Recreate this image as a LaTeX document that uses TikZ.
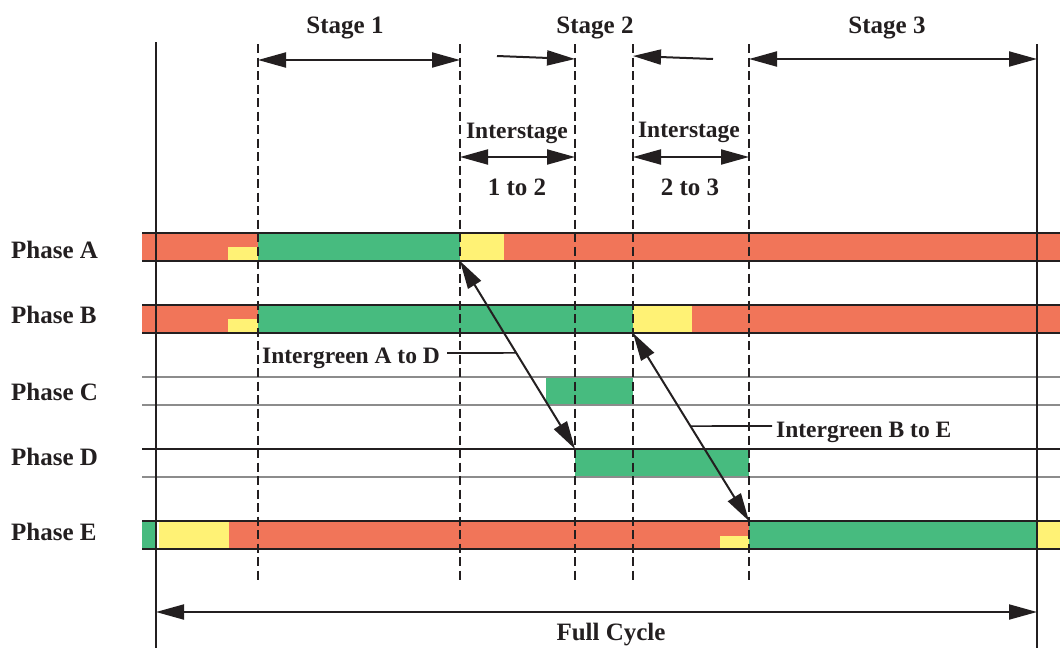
\documentclass[tikz,border=0pt]{standalone}
\usepackage{fontspec}
\setmainfont{Liberation Serif}
\usetikzlibrary{arrows.meta,calc}
\definecolor{pred}{RGB}{241,117,89}
\definecolor{pgreen}{RGB}{71,187,127}
\definecolor{pyellow}{RGB}{255,242,117}
\definecolor{ink}{RGB}{35,31,32}
\tikzset{
  lbl/.style={font=\bfseries\fontsize{25}{29}\selectfont, inner sep=0pt, text=ink},
  lblnarrow/.style={font=\bfseries\fontsize{23.5}{28}\selectfont, inner sep=0pt, text=ink},
  dimarrow/.style={line width=2pt, draw=ink, {Triangle[length=28pt,width=15pt]}-{Triangle[length=28pt,width=15pt]}},
  onearrow/.style={line width=2pt, draw=ink, -{Triangle[length=28pt,width=15pt]}},
  guide/.style={line width=2pt, draw=ink, dash pattern=on 9pt off 4.5pt},
  solidguide/.style={line width=2pt, draw=ink},
  barline/.style={line width=1.6pt, draw=ink},
  greyline/.style={line width=1.6pt, draw=black!45},
  leader/.style={line width=1.6pt, draw=ink}
}
\begin{document}
\begin{tikzpicture}[x=1pt,y=-1pt]
\useasboundingbox (0,0) rectangle (1060,648);

% ---------- Phase bars ----------
% Phase A
\fill[pred] (142,233) rectangle (1060,261);
\fill[pyellow] (228,247) rectangle (258,261);
\fill[pgreen] (258,233) rectangle (460,261);
\fill[pyellow] (460,233) rectangle (504,261);
\draw[barline] (142,233) -- (1060,233) (142,261) -- (1060,261);
% Phase B
\fill[pred] (142,305) rectangle (1060,333);
\fill[pyellow] (228,319) rectangle (258,333);
\fill[pgreen] (258,305) rectangle (633,333);
\fill[pyellow] (633,305) rectangle (692,333);
\draw[barline] (142,305) -- (1060,305) (142,333) -- (1060,333);
% Phase C
\fill[pgreen] (546,377) rectangle (633,405);
\draw[greyline] (142,377) -- (1060,377) (142,405) -- (1060,405);
% Phase D
\fill[pgreen] (575,449) rectangle (749,477);
\draw[barline] (142,449) -- (1060,449);
\draw[greyline] (142,477) -- (1060,477);
% Phase E
\fill[pred] (229,521) rectangle (749,549);
\fill[pgreen] (142,521) rectangle (156,549);
\fill[pyellow] (159,521) rectangle (229,549);
\fill[pyellow] (720,536) rectangle (749,549);
\fill[pgreen] (749,521) rectangle (1037,549);
\fill[pyellow] (1037,521) rectangle (1060,549);
\draw[barline] (142,521) -- (1060,521) (142,549) -- (1060,549);

% ---------- Guide lines ----------
\coordinate (c0t) at (156,42);   \coordinate (c0b) at (156,648);
\coordinate (c6t) at (1037,44);  \coordinate (c6b) at (1037,648);
\coordinate (g1t) at (258,44);   \coordinate (g1b) at (258,581);
\coordinate (g2t) at (460,44);   \coordinate (g2b) at (460,581);
\coordinate (g3t) at (575,44);   \coordinate (g3b) at (575,581);
\coordinate (g4t) at (633,44);   \coordinate (g4b) at (633,581);
\coordinate (g5t) at (749,44);   \coordinate (g5b) at (749,581);
\draw[solidguide] (c0t) -- (c0b);
\draw[solidguide] (c6t) -- (c6b);
\foreach \g in {g1,g2,g3,g4,g5} \draw[guide] (\g t) -- (\g b);

% ---------- Phase labels ----------
\node[lbl, anchor=base west] (pA) at (11,258) {Phase A};
\node[lbl, anchor=base west] (pB) at (11,323) {Phase B};
\node[lbl, anchor=base west] (pC) at (11,400) {Phase C};
\node[lbl, anchor=base west] (pD) at (11,465) {Phase D};
\node[lbl, anchor=base west] (pE) at (11,540) {Phase E};

% ---------- Stage arrows ----------
\node[lbl, anchor=base] (s1) at (345,33) {Stage 1};
\node[lbl, anchor=base] (s2) at (595,33) {Stage 2};
\node[lbl, anchor=base] (s3) at (887,33) {Stage 3};
\coordinate (s1a) at (258,60); \coordinate (s1b) at (460,60);
\draw[dimarrow] (s1a) -- (s1b);
\coordinate (s2a) at (497,56); \coordinate (s2b) at (575,59);
\draw[onearrow] (s2a) -- (s2b);
\coordinate (s2c) at (713,59); \coordinate (s2d) at (633,56);
\draw[onearrow] (s2c) -- (s2d);
\coordinate (s3a) at (749,59); \coordinate (s3b) at (1037,59);
\draw[dimarrow] (s3a) -- (s3b);

% ---------- Interstage ----------
\node[lblnarrow, anchor=base] (i12) at (517,138) {Interstage};
\node[lbl, anchor=base] (i12b) at (517,195) {1 to 2};
\coordinate (i1a) at (460,157); \coordinate (i1b) at (575,157);
\draw[dimarrow] (i1a) -- (i1b);
\node[lblnarrow, anchor=base] (i23) at (689,137) {Interstage};
\node[lbl, anchor=base] (i23b) at (690,195) {2 to 3};
\coordinate (i2a) at (633,157); \coordinate (i2b) at (749,157);
\draw[dimarrow] (i2a) -- (i2b);

% ---------- Intergreens ----------
\coordinate (ad1) at (460,261); \coordinate (ad2) at (575,449);
\draw[dimarrow] (ad1) -- (ad2);
\coordinate (be1) at (633,333); \coordinate (be2) at (749,521);
\draw[dimarrow] (be1) -- (be2);
\node[lblnarrow, anchor=base west] (igAD) at (262,363) {Intergreen A to D};
\coordinate (adm) at ($(ad1)!0.489!(ad2)$);
\coordinate (adl) at (447,353);
\draw[leader] (adl) -- (adm);
\node[lblnarrow, anchor=base west] (igBE) at (776,437) {Intergreen B to E};
\coordinate (bem) at ($(be1)!0.495!(be2)$);
\coordinate (bel) at (772,426);
\draw[leader] (bem) -- (bel);

% ---------- Full cycle ----------
\coordinate (fc1) at (156,612); \coordinate (fc2) at (1037,612);
\draw[dimarrow] (fc1) -- (fc2);
\node[lbl, anchor=base] (fc) at (611,640) {Full Cycle};
\end{tikzpicture}
\end{document}
